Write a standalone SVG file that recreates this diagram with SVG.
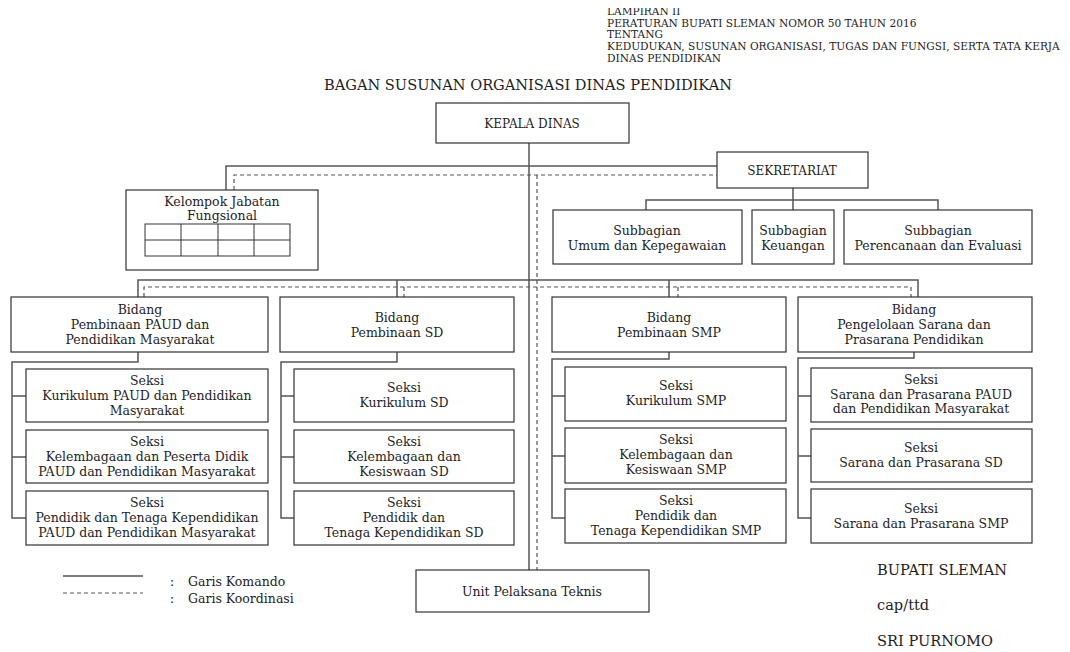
<svg xmlns="http://www.w3.org/2000/svg" width="1070" height="652" viewBox="0 0 1070 652">
<style>
text{font-family:"DejaVu Serif","Liberation Serif",serif;fill:#1e1e1e;}
.hd{font-size:10.6px;}
.ti{font-size:14.6px;}
.cap{font-size:12px;text-anchor:middle;}
.t{font-size:12.5px;text-anchor:middle;}
.lg{font-size:12.5px;}
.sg{font-size:14.6px;}
.box{fill:#fff;stroke:#333;stroke-width:1.2;}
.cmd{fill:none;stroke:#555;stroke-width:1.5;}
.crd{fill:none;stroke:#555;stroke-width:1.2;stroke-dasharray:4 3;}
</style>
<defs><clipPath id="hclip"><rect x="0" y="8" width="1070" height="20"/></clipPath></defs>
<rect width="1070" height="652" fill="#fff"/>
<g id="header">
<text class="hd" x="607" y="14.5" clip-path="url(#hclip)">LAMPIRAN II</text>
<text class="hd" x="607" y="26.5">PERATURAN BUPATI SLEMAN NOMOR 50 TAHUN 2016</text>
<text class="hd" x="607" y="38">TENTANG</text>
<text class="hd" x="607" y="50">KEDUDUKAN, SUSUNAN ORGANISASI, TUGAS DAN FUNGSI, SERTA TATA KERJA</text>
<text class="hd" x="607" y="62">DINAS PENDIDIKAN</text>
<text class="ti" x="528" y="90" text-anchor="middle">BAGAN SUSUNAN ORGANISASI DINAS PENDIDIKAN</text>
</g>
<g id="connectors">
<path class="cmd" d="M529 143V570"/>
<path class="cmd" d="M226 190V166H717"/>
<path class="cmd" d="M793 188V210M646 210V200H938V210"/>
<path class="cmd" d="M138 297V280H918V297M397 280V297M669 280V297"/>
<path class="cmd" d="M138 352V362H12V518H26M12 396H26M12 457H26"/>
<path class="cmd" d="M397 352V362H281V518H294M281 396H294M281 457H294"/>
<path class="cmd" d="M669 352V359H552V518H565M552 396H565M552 456H565"/>
<path class="cmd" d="M914 352V358H798V518H811M798 396H811M798 456H811"/>
<path class="crd" d="M234 190V175H717"/>
<path class="crd" d="M537 175V570"/>
<path class="crd" d="M144 297V287H911V297M404 287V297M678 287V297"/>
</g>
<g id="kepala"><rect class="box" x="436" y="103" width="193" height="40"/><text class="cap" x="532" y="128">KEPALA DINAS</text></g>
<g id="sekretariat"><rect class="box" x="717" y="152" width="151" height="36"/><text class="cap" x="792" y="175">SEKRETARIAT</text></g>
<g id="kelompok"><rect class="box" x="126" y="190" width="192" height="80"/>
<text class="t" x="222" y="206">Kelompok Jabatan</text><text class="t" x="222" y="220">Fungsional</text>
<rect x="145" y="224" width="145" height="32" fill="none" stroke="#333" stroke-width="1"/>
<path d="M145 240H290M181 224V256M218 224V256M254 224V256" fill="none" stroke="#333" stroke-width="1"/></g>
<g id="sub-umum"><rect class="box" x="553" y="210" width="189" height="54"/><text class="t" x="647" y="235">Subbagian</text><text class="t" x="647" y="250">Umum dan Kepegawaian</text></g>
<g id="sub-keuangan"><rect class="box" x="752" y="210" width="82" height="54"/><text class="t" x="793" y="235">Subbagian</text><text class="t" x="793" y="250">Keuangan</text></g>
<g id="sub-perencanaan"><rect class="box" x="844" y="210" width="188" height="54"/><text class="t" x="938" y="235">Subbagian</text><text class="t" x="938" y="250">Perencanaan dan Evaluasi</text></g>
<g id="bidang-paud"><rect class="box" x="11" y="297" width="257" height="55"/><text class="t" x="140" y="314">Bidang</text><text class="t" x="140" y="329">Pembinaan PAUD dan</text><text class="t" x="140" y="344">Pendidikan Masyarakat</text></g>
<g id="bidang-sd"><rect class="box" x="280" y="297" width="234" height="55"/><text class="t" x="397" y="322">Bidang</text><text class="t" x="397" y="337">Pembinaan SD</text></g>
<g id="bidang-smp"><rect class="box" x="552" y="297" width="234" height="55"/><text class="t" x="669" y="322">Bidang</text><text class="t" x="669" y="337">Pembinaan SMP</text></g>
<g id="bidang-sarpras"><rect class="box" x="798" y="297" width="234" height="55"/><text class="t" x="914" y="314">Bidang</text><text class="t" x="914" y="329">Pengelolaan Sarana dan</text><text class="t" x="914" y="344">Prasarana Pendidikan</text></g>
<g id="seksi-paud-1"><rect class="box" x="26" y="369" width="242" height="53"/><text class="t" x="147" y="385">Seksi</text><text class="t" x="147" y="400">Kurikulum PAUD dan Pendidikan</text><text class="t" x="147" y="415">Masyarakat</text></g>
<g id="seksi-paud-2"><rect class="box" x="26" y="430" width="242" height="53"/><text class="t" x="147" y="446">Seksi</text><text class="t" x="147" y="461">Kelembagaan dan Peserta Didik</text><text class="t" x="147" y="476">PAUD dan Pendidikan Masyarakat</text></g>
<g id="seksi-paud-3"><rect class="box" x="26" y="491" width="242" height="54"/><text class="t" x="147" y="507">Seksi</text><text class="t" x="147" y="522">Pendidik dan Tenaga Kependidikan</text><text class="t" x="147" y="537">PAUD dan Pendidikan Masyarakat</text></g>
<g id="seksi-sd-1"><rect class="box" x="294" y="369" width="220" height="53"/><text class="t" x="404" y="392">Seksi</text><text class="t" x="404" y="407">Kurikulum SD</text></g>
<g id="seksi-sd-2"><rect class="box" x="294" y="430" width="220" height="53"/><text class="t" x="404" y="446">Seksi</text><text class="t" x="404" y="461">Kelembagaan dan</text><text class="t" x="404" y="476">Kesiswaan SD</text></g>
<g id="seksi-sd-3"><rect class="box" x="294" y="491" width="220" height="54"/><text class="t" x="404" y="507">Seksi</text><text class="t" x="404" y="522">Pendidik dan</text><text class="t" x="404" y="537">Tenaga Kependidikan SD</text></g>
<g id="seksi-smp-1"><rect class="box" x="565" y="367" width="221" height="54"/><text class="t" x="676" y="390">Seksi</text><text class="t" x="676" y="405">Kurikulum SMP</text></g>
<g id="seksi-smp-2"><rect class="box" x="565" y="428" width="221" height="55"/><text class="t" x="676" y="444">Seksi</text><text class="t" x="676" y="459">Kelembagaan dan</text><text class="t" x="676" y="474">Kesiswaan SMP</text></g>
<g id="seksi-smp-3"><rect class="box" x="565" y="489" width="221" height="54"/><text class="t" x="676" y="505">Seksi</text><text class="t" x="676" y="520">Pendidik dan</text><text class="t" x="676" y="535">Tenaga Kependidikan SMP</text></g>
<g id="seksi-sarpras-1"><rect class="box" x="811" y="368" width="221" height="54"/><text class="t" x="921" y="384">Seksi</text><text class="t" x="921" y="399">Sarana dan Prasarana PAUD</text><text class="t" x="921" y="413">dan Pendidikan Masyarakat</text></g>
<g id="seksi-sarpras-2"><rect class="box" x="811" y="429" width="221" height="53"/><text class="t" x="921" y="452">Seksi</text><text class="t" x="921" y="467">Sarana dan Prasarana SD</text></g>
<g id="seksi-sarpras-3"><rect class="box" x="811" y="489" width="221" height="54"/><text class="t" x="921" y="513">Seksi</text><text class="t" x="921" y="528">Sarana dan Prasarana SMP</text></g>
<g id="upt"><rect class="box" x="416" y="570" width="233" height="42"/><text class="t" x="532" y="596">Unit Pelaksana Teknis</text></g>
<g id="legend">
<path class="cmd" d="M63 576H143"/>
<path class="crd" d="M63 593H143"/>
<text class="lg" x="170" y="586">:</text><text class="lg" x="188" y="586">Garis Komando</text>
<text class="lg" x="170" y="603">:</text><text class="lg" x="188" y="603">Garis Koordinasi</text>
</g>
<g id="signature">
<text class="sg" x="877" y="575">BUPATI SLEMAN</text>
<text class="sg" x="877" y="610">cap/ttd</text>
<text class="sg" x="877" y="646">SRI PURNOMO</text>
</g>
</svg>
